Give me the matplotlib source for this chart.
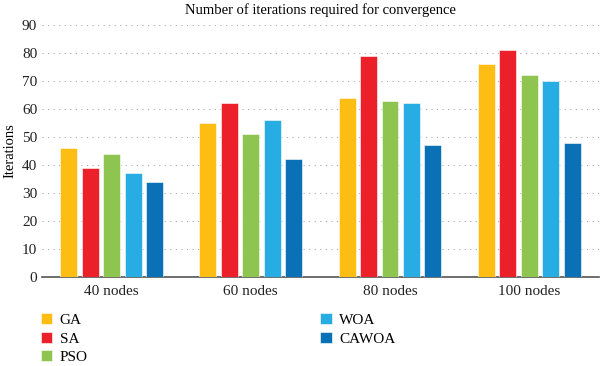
import numpy as np
import matplotlib.pyplot as plt

plt.rcParams['font.family'] = ['Liberation Serif', 'DejaVu Serif']

groups = ['40 nodes', '60 nodes', '80 nodes', '100 nodes']
methods = ['GA', 'SA', 'PSO', 'WOA', 'CAWOA']
values = {
    'GA': [46, 55, 64, 76],
    'SA': [39, 62, 79, 81],
    'PSO': [44, 51, 63, 72],
    'WOA': [37, 56, 62, 70],
    'CAWOA': [34, 42, 47, 48],
}
colors = ['#FDBD12', '#EC2029', '#8EC550', '#27ACE3', '#0A71B7']

fig = plt.figure(figsize=(6, 3.66), dpi=100)
ax = fig.add_axes([0.07, 0.243, 0.928, 0.689])

x = np.arange(len(groups))
step = 0.154
width = 0.122
for i, m in enumerate(methods):
    ax.bar(x + (i - 2) * step, values[m], width, color=colors[i], label=m,
           edgecolor='white', linewidth=0.4, zorder=3)

ax.set_xlim(-0.5, 3.5)
ax.set_ylim(0, 90)
ax.set_yticks(range(0, 91, 10))
ax.set_xticks(x)
ax.set_xticklabels(groups)
ax.yaxis.grid(True, linestyle=(0, (1, 4)), color='#aaaaaa', linewidth=0.8, zorder=0)
for s in ['top', 'right', 'left']:
    ax.spines[s].set_visible(False)
ax.spines['bottom'].set_color('#555555')
ax.spines['bottom'].set_linewidth(1.2)
ax.tick_params(axis='both', length=0, labelsize=11, colors='#222222')
ax.tick_params(axis='x', pad=6)
ax.set_ylabel('Iterations', fontsize=10.5, labelpad=4)
ax.set_title('Number of iterations required for convergence', fontsize=10.5, pad=8)

fig.legend(loc='upper left', bbox_to_anchor=(0.045, 0.182), ncol=2, frameon=False,
           fontsize=11, handlelength=0.75, handleheight=0.75, columnspacing=15.2,
           labelspacing=0.3, handletextpad=0.5)

fig.savefig('out.png', dpi=100)
